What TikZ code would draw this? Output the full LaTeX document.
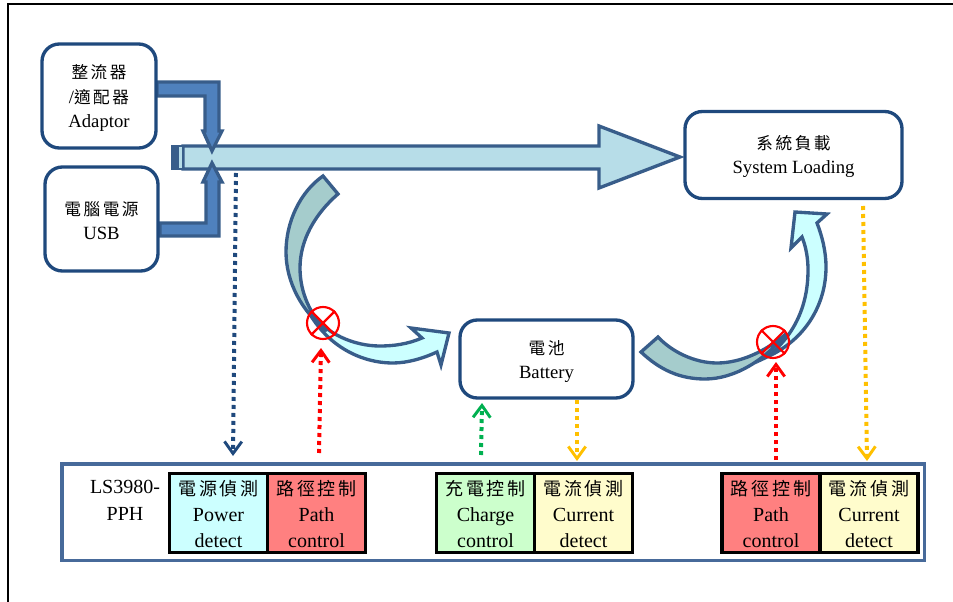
\documentclass[tikz,border=0pt]{standalone}
\usepackage{fontspec}
\setmainfont{Liberation Serif}
\newfontfamily\cjk[LetterSpace=15]{Noto Sans CJK TC}
\usetikzlibrary{arrows.meta}
\definecolor{boxblue}{HTML}{1F497D}
\definecolor{arrowline}{HTML}{385D8A}
\definecolor{arrowfill}{HTML}{4F81BD}
\definecolor{busfill}{HTML}{B7DDE8}
\definecolor{tailfill}{HTML}{A5CCCC}
\definecolor{headfill}{HTML}{CCFFFF}
\definecolor{chipline}{HTML}{476A9A}
\definecolor{detyellow}{HTML}{FFC000}
\definecolor{detgreen}{HTML}{00B050}
\newcommand{\boxcjk}[1]{{\cjk\fontsize{12.5}{18}\selectfont #1}}
\newcommand{\cellcjk}[1]{\rule{0pt}{13.5pt}{\cjk\fontsize{13.5}{19.5}\selectfont #1}}
\tikzset{
  roundbox/.style={draw=boxblue,line width=2.5pt,rounded corners=13pt,fill=white,align=center,inner sep=0.75pt,font=\fontsize{14}{18}\selectfont},
  cellbox/.style={draw=black,line width=2.5pt,minimum width=73.5pt,minimum height=59.5pt,align=center,inner sep=0.75pt,font=\fontsize{15}{19.5}\selectfont},
  fatarrow/.style={draw=arrowline,line width=2.5pt,line join=miter},
  dotline/.style={line width=3pt,dash pattern=on 3pt off 3pt,-{Straight Barb[length=9pt,width=13pt,line width=2.2pt]}},
  offsign/.style={circle,draw=red,line width=1.6pt,minimum size=24pt,inner sep=0pt,fill=none},
}
\begin{document}
\begin{tikzpicture}[x=0.75pt,y=0.75pt,yscale=-1,xscale=1]
\useasboundingbox (0,0) rectangle (953,602);

%Frame
\draw [line width=1.2pt] (8,602) -- (8,4) -- (953,4) ;

%Shape: bus arrow
\draw [fatarrow,fill=busfill] (183,146) -- (599,146) -- (599,126) -- (680,157) -- (599,188) -- (599,169) -- (183,169) -- cycle ;
\draw [draw=arrowline,line width=1.5pt,fill=busfill] (178,146) rectangle (183,169) ;
\draw [draw=arrowline,line width=1.5pt,fill=arrowline] (172,146) rectangle (178,169) ;

%Shape: bent arrows
\draw [fatarrow,fill=arrowfill] (157,82) -- (219,82) -- (219,131) -- (222,131) -- (212,151) -- (203,131) -- (205,131) -- (205,96) -- (157,96) -- cycle ;
\draw [fatarrow,fill=arrowfill] (160,236) -- (219,236) -- (219,182) -- (222,182) -- (212,163) -- (203,182) -- (206,182) -- (206,223) -- (160,223) -- cycle ;

%Shape: left curved arrow
\draw [fatarrow,fill=headfill] (306,307) .. controls (325,345) and (360,363) .. (393,363) .. controls (408,363) and (424,358) .. (437,352) -- (441,365) -- (449,333) -- (411,328) -- (422,338) .. controls (408,344) and (394,346) .. (380,346) .. controls (355,346) and (325,335) .. (306,307) -- cycle ;
\draw [fatarrow,fill=tailfill] (323,176) .. controls (300,192) and (286,222) .. (286,252) .. controls (286,282) and (302,312) .. (327,331) .. controls (310,315) and (300,292) .. (300,268) .. controls (300,240) and (315,214) .. (338,194) -- cycle ;

%Shape: right curved arrow
\draw [fatarrow,fill=headfill] (767,357) .. controls (805,340) and (826,305) .. (826,267) .. controls (826,251) and (822,236) .. (817,223) -- (827,214) -- (795,212) -- (791,248) -- (802,237) .. controls (806,247) and (808,258) .. (808,270) .. controls (808,305) and (795,335) .. (767,357) -- cycle ;
\draw [fatarrow,fill=tailfill] (641,352) .. controls (660,370) and (680,379) .. (705,379) .. controls (735,379) and (765,360) .. (787,333) .. controls (765,352) and (740,363) .. (717,363) .. controls (695,363) and (672,352) .. (658,337) -- cycle ;

% Text Node
\node [roundbox,minimum width=85.5pt,minimum height=78pt,font=\fontsize{14}{18.5}\selectfont] (adaptor) at (99,96) {\rule{0pt}{13.5pt}\boxcjk{整流器}\\/\boxcjk{適配器}\\Adaptor};
% Text Node
\node [roundbox,minimum width=84.75pt,minimum height=78pt] (usb) at (101.5,219) {\rule{0pt}{13.5pt}\boxcjk{電腦電源}\\USB};
% Text Node
\node [roundbox,minimum width=162.75pt,minimum height=65.25pt] (loading) at (793.5,155) {\rule{0pt}{13.5pt}\boxcjk{系統負載}\\System Loading};
% Text Node
\node [roundbox,minimum width=129.75pt,minimum height=58.5pt] (battery) at (546.5,359) {\rule{0pt}{14.5pt}\boxcjk{電池}\\Battery};

%Chip outline
\node [draw=chipline,line width=2.6pt,minimum width=646.7pt,minimum height=72.5pt] (chip) at (493.2,512.3) {};
% Text Node
\node [align=center,inner sep=0.75pt,font=\fontsize{15}{20}\selectfont] (partno) at (125,500.5) {LS3980-\\PPH};

% Text Node
\node [cellbox,fill=headfill] (powerdet) at (218.5,513) {\cellcjk{電源偵測}\\Power\\detect};
\node [cellbox,fill=red!50] (pathone) at (316.5,513) {\cellcjk{路徑控制}\\Path\\control};
\node [cellbox,fill=green!20] (chargectl) at (485.5,513) {\cellcjk{充電控制}\\Charge\\control};
\node [cellbox,fill=yellow!20] (curone) at (583.5,513) {\cellcjk{電流偵測}\\Current\\detect};
\node [cellbox,fill=red!50] (pathtwo) at (771,513) {\cellcjk{路徑控制}\\Path\\control};
\node [cellbox,fill=yellow!20] (curtwo) at (869,513) {\cellcjk{電流偵測}\\Current\\detect};

%Cross signs
\node [offsign] (xleft) at (323,323) {};
\draw [red,line width=1.6pt] (xleft.45) -- (xleft.225) (xleft.135) -- (xleft.315) ;
\node [offsign] (xright) at (773,342) {};
\draw [red,line width=1.6pt] (xright.45) -- (xright.225) (xright.135) -- (xright.315) ;

% free ends of the dotted lines
\coordinate (bustap) at (236,173) ;
\coordinate (powerend) at (233,456) ;
\coordinate (pathonefoot) at (319,453) ;
\coordinate (pathoneend) at (321,348) ;
\coordinate (chargefoot) at (481,455) ;
\coordinate (chargeend) at (482,403) ;
\coordinate (batfoot) at (577,400) ;
\coordinate (curoneend) at (577,461) ;
\coordinate (pathtwofoot) at (776,460) ;
\coordinate (pathtwoend) at (776,362) ;
\coordinate (loadfoot) at (863,206) ;
\coordinate (curtwoend) at (867,461) ;

%Straight Lines
\draw [dotline,boxblue] (bustap) -- (powerend) ;
\draw [dotline,red] (pathonefoot) -- (pathoneend) ;
\draw [dotline,detgreen] (chargefoot) -- (chargeend) ;
\draw [dotline,detyellow] (batfoot) -- (curoneend) ;
\draw [dotline,red] (pathtwofoot) -- (pathtwoend) ;
\draw [dotline,detyellow] (loadfoot) -- (curtwoend) ;

\end{tikzpicture}
\end{document}
